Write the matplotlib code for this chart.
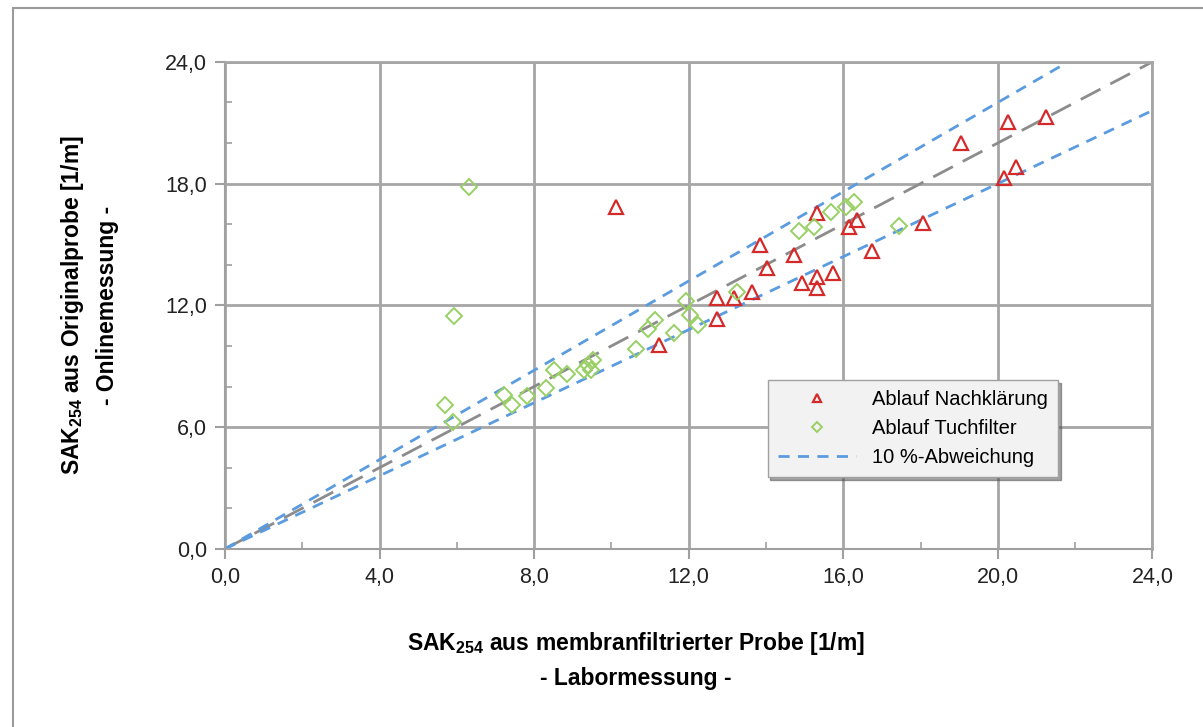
import matplotlib
matplotlib.use("Agg")
import matplotlib.pyplot as plt
from matplotlib.patches import Rectangle
from matplotlib.ticker import MultipleLocator, FuncFormatter

plt.rcParams['font.family'] = ['Liberation Sans', 'DejaVu Sans']
plt.rcParams['mathtext.default'] = 'regular'

# Ablauf Nachklaerung (lab vs online)
nk_x = [10.13, 11.22, 12.73, 12.73, 13.16, 13.64, 13.84, 14.03, 14.72, 14.94,
        15.32, 15.32, 15.32, 15.73, 16.15, 16.36, 16.74, 18.05, 19.05, 20.15,
        20.26, 20.46, 21.25]
nk_y = [16.84, 10.07, 12.35, 11.32, 12.35, 12.64, 14.98, 13.83, 14.48, 13.09,
        13.41, 12.84, 16.54, 13.58, 15.88, 16.21, 14.69, 16.04, 19.98, 18.26,
        21.05, 18.83, 21.30]

# Ablauf Tuchfilter
tf_x = [6.31, 5.92, 5.70, 5.90, 7.23, 7.43, 7.82, 8.31, 8.51, 8.85,
        9.29, 9.52, 9.48, 9.40, 10.63, 10.95, 11.13, 11.63, 11.93, 12.03,
        12.25, 13.25, 14.85, 15.24, 15.67, 16.06, 16.28, 17.45]
tf_y = [17.83, 11.48, 7.09, 6.24, 7.59, 7.09, 7.54, 7.92, 8.82, 8.62,
        8.82, 9.31, 8.82, 9.05, 9.84, 10.82, 11.28, 10.66, 12.23, 11.53,
        11.03, 12.67, 15.68, 15.88, 16.59, 16.86, 17.08, 15.93]

# reference lines (1:1 and +/- 10 %)
ident_x = [0, 24]
ident_y = [0, 24]
upper_x = [0, 21.82]
upper_y = [0, 24]
lower_x = [0, 24]
lower_y = [0, 21.6]

x_ticks = [0, 4, 8, 12, 16, 20, 24]
y_ticks = [0, 6, 12, 18, 24]

fig = plt.figure(figsize=(12.03, 7.27), dpi=100)
ax = fig.add_axes([0.187, 0.245, 0.771, 0.670])

# outer chart frame
fig.patches.append(Rectangle((13 / 1203, -0.1), 1.2, 1 - 8 / 727 + 0.1,
                             transform=fig.transFigure, fill=False,
                             edgecolor='#9a9a9a', linewidth=1.5))

ax.plot(ident_x, ident_y, color='#8c8c8c', linewidth=2, dashes=(8, 4), zorder=2)
ax.plot(upper_x, upper_y, color='#5b9bdf', linewidth=2, dashes=(4, 3), zorder=2,
        label='10 %-Abweichung')
ax.plot(lower_x, lower_y, color='#5b9bdf', linewidth=2, dashes=(4, 3), zorder=2)

ax.plot(nk_x, nk_y, linestyle='none', marker='^', markersize=10,
        markerfacecolor='none', markeredgecolor='#d42a2a', markeredgewidth=1.6,
        label='Ablauf Nachklärung', zorder=3)
ax.plot(tf_x, tf_y, linestyle='none', marker='D', markersize=8.5,
        markerfacecolor='none', markeredgecolor='#99d066', markeredgewidth=1.4,
        label='Ablauf Tuchfilter', zorder=3)

ax.set_xlim(0, 24)
ax.set_ylim(0, 24)
ax.set_xticks(x_ticks)
ax.set_yticks(y_ticks)
ax.xaxis.set_minor_locator(MultipleLocator(2))
ax.yaxis.set_minor_locator(MultipleLocator(2))
fmt = FuncFormatter(lambda v, p: f"{v:.1f}".replace('.', ','))
ax.xaxis.set_major_formatter(fmt)
ax.yaxis.set_major_formatter(fmt)
ax.tick_params(which='major', direction='out', length=7, width=1.5,
               color='#a0a0a0', labelsize=15.5, labelcolor='#222222', pad=6)
ax.tick_params(which='minor', direction='in', length=5, width=1.2, color='#a0a0a0')

ax.grid(True, which='major', color='#a6a6a6', linewidth=2)
ax.set_axisbelow(True)
for side in ['top', 'right']:
    ax.spines[side].set_color('#a6a6a6')
    ax.spines[side].set_linewidth(2)
for side in ['left', 'bottom']:
    ax.spines[side].set_color('#a0a0a0')
    ax.spines[side].set_linewidth(1.5)

fig.text(636 / 1203, 1 - 660 / 727,
         "SAK$_{254}$ aus membranfiltrierter Probe [1/m]\n- Labormessung -",
         ha='center', va='center', fontsize=16.5, fontweight='bold',
         linespacing=1.55)
fig.text(89 / 1203, 1 - 305 / 727,
         "SAK$_{254}$ aus Originalprobe [1/m]\n- Onlinemessung -",
         ha='center', va='center', fontsize=16.5, fontweight='bold',
         rotation=90, linespacing=1.55)

handles, labels = ax.get_legend_handles_labels()
order = [1, 2, 0]
leg = ax.legend([handles[i] for i in order], [labels[i] for i in order],
                loc='upper left', bbox_to_anchor=(0.585, 0.347),
                borderaxespad=0, fontsize=14.5, handlelength=3.9,
                markerscale=0.6, frameon=True, fancybox=False, shadow=True,
                borderpad=0.5, labelspacing=0.5, handletextpad=0.8)
leg.get_frame().set_facecolor('#f2f2f2')
leg.get_frame().set_edgecolor('#a0a0a0')
leg.get_frame().set_alpha(1)

fig.savefig("out.png", dpi=100)
